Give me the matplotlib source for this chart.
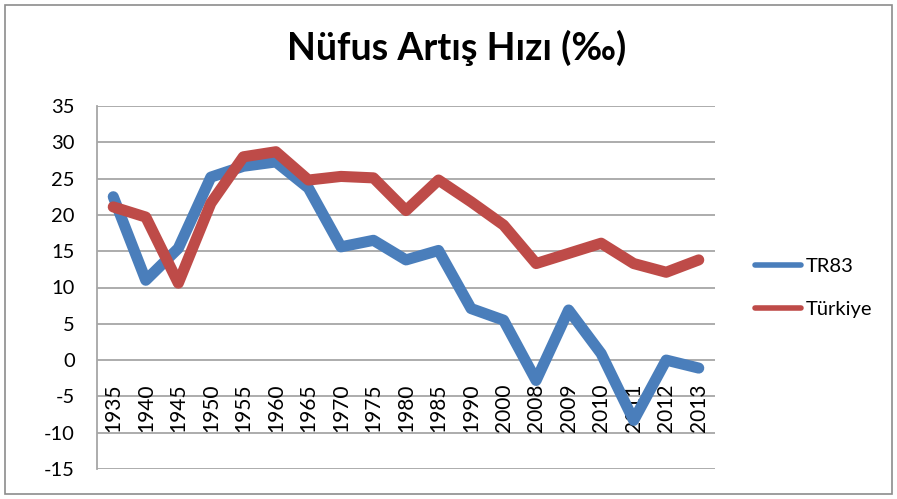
import matplotlib
matplotlib.use("Agg")
import matplotlib.pyplot as plt
from matplotlib.patches import Rectangle

years = ["1935", "1940", "1945", "1950", "1955", "1960", "1965", "1970", "1975", "1980",
         "1985", "1990", "2000", "2008", "2009", "2010", "2011", "2012", "2013"]
tr83 = [22.5, 11.0, 15.4, 25.2, 26.7, 27.3, 23.7, 15.6, 16.5, 13.8,
        15.1, 7.1, 5.5, -2.8, 6.9, 0.9, -8.3, 0.0, -1.1]
turkiye = [21.1, 19.7, 10.6, 21.6, 28.0, 28.7, 24.8, 25.3, 25.1, 20.6,
           24.8, 21.8, 18.6, 13.3, 14.7, 16.1, 13.3, 12.1, 13.8]

plt.rcParams["font.family"] = ["Lato", "DejaVu Sans"]
plt.rcParams["axes.unicode_minus"] = False

fig = plt.figure(figsize=(8.97, 4.99), dpi=100)
ax = fig.add_axes([97 / 897, 30 / 499, 618 / 897, 363 / 499])

x = list(range(len(years)))
ax.plot(x, tr83, color="#4A7EBB", lw=8, solid_joinstyle="round", solid_capstyle="round",
        label="TR83", zorder=3)
ax.plot(x, turkiye, color="#BE4B48", lw=8, solid_joinstyle="round", solid_capstyle="round",
        label="Türkiye", zorder=3)

ax.set_xlim(-0.5, len(years) - 0.5)
ax.set_ylim(-15, 35)
ax.set_yticks(range(-15, 36, 5))
ax.tick_params(axis="y", length=0, labelsize=14.5, pad=16)
ax.set_xticks([])
ax.grid(axis="y", color="#A6A6A6", lw=1.3)
ax.set_axisbelow(True)
for s in ["top", "right", "bottom"]:
    ax.spines[s].set_visible(False)
ax.spines["left"].set_color("#A6A6A6")
ax.spines["left"].set_linewidth(1.3)

# category labels hang below the zero line
for i, yr in enumerate(years):
    ax.annotate(yr, (i, 0), xytext=(0, -17), textcoords="offset points",
                rotation=90, ha="center", va="top", fontsize=15, zorder=2)

fig.text(0.509, 0.905, "Nüfus Artış Hızı (‰)", ha="center", va="center",
         fontsize=27, fontweight="bold")

ax.legend(loc="center left", bbox_to_anchor=(737 / 897, (499 - 288) / 499),
          bbox_transform=fig.transFigure, frameon=False, fontsize=14.5,
          handlelength=2.3, handletextpad=0.2, labelspacing=1.25)
for h in ax.get_legend().get_lines():
    h.set_linewidth(4)

fig.patches.append(Rectangle((5 / 897, 5 / 499), 887 / 897, 489 / 499, transform=fig.transFigure,
                             fill=False, edgecolor="#8C8C8C", lw=1.2))

fig.savefig("out.png", dpi=100)
